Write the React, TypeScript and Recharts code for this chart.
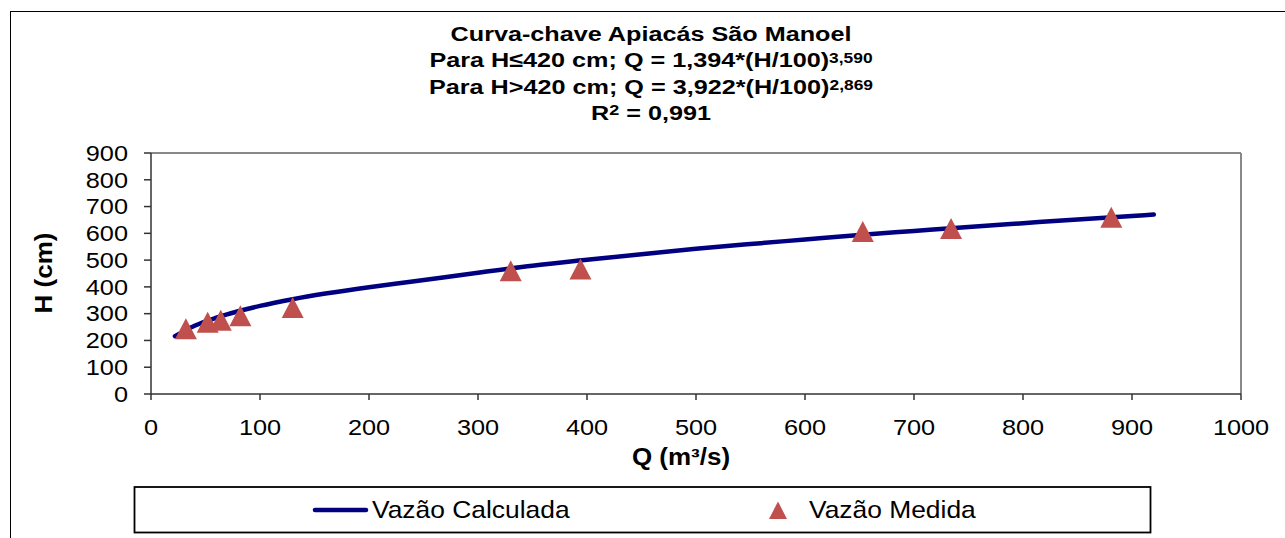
import React from 'react';
import { ComposedChart, Line, Scatter, XAxis, YAxis, ReferenceLine } from 'recharts';

// Calculated rating curve (Q m³/s, H cm)
const curveQ = [22, 40, 60, 80, 100, 130, 160, 200, 240, 300, 350, 400, 450, 500, 550, 600, 650, 700, 750, 800, 850, 900, 920];
const curveH = [216, 255, 285, 309, 329, 354, 375, 399, 420, 453, 479, 501, 522, 542, 560, 577, 594, 609, 624, 638, 652, 665, 670];

// Measured discharges
const measQ = [32, 52, 64, 82, 130, 330, 394, 653, 734, 881];
const measH = [244, 268, 275, 292, 323, 460, 467, 607, 618, 660];

const xTicks = [0, 100, 200, 300, 400, 500, 600, 700, 800, 900, 1000];
const yTicks = [0, 100, 200, 300, 400, 500, 600, 700, 800, 900];

const titleLine1 = 'Curva-chave Apiacás São Manoel';
const titleLine2 = 'Para H≤420 cm; Q = 1,394*(H/100)';
const titleSup2 = '3,590';
const titleLine3 = 'Para H>420 cm; Q = 3,922*(H/100)';
const titleSup3 = '2,869';
const titleLine4a = 'R';
const titleSup4 = '2';
const titleLine4b = ' = 0,991';
const xLabel = 'Q (m³/s)';
const yLabel = 'H (cm)';
const legendLine = 'Vazão Calculada';
const legendScatter = 'Vazão Medida';

const curve = curveQ.map((q, i) => ({ q, h: curveH[i] }));
const measured = measQ.map((q, i) => ({ q, h: measH[i] }));

const FONT = '"Liberation Sans", Arial, sans-serif';
const NAVY = '#000080';
const RED = '#C0504D';

const XTick = (props: any) => {
  const { x, y, payload } = props;
  return (
    <text transform={`translate(${x},${y}) scale(1.15,1)`} textAnchor="middle" fontSize={22} fontFamily={FONT} fill="#000" dy="0.71em">
      {payload.value}
    </text>
  );
};

const YTick = (props: any) => {
  const { x, y, payload } = props;
  return (
    <text transform={`translate(${x},${y}) scale(1.15,1)`} textAnchor="end" fontSize={22} fontFamily={FONT} fill="#000" dy="0.355em">
      {payload.value}
    </text>
  );
};

const Tri = (props: any) => {
  const { cx, cy } = props;
  if (cx == null || cy == null) return null;
  const w = 22;
  const h = 21;
  return (
    <polygon
      points={`${cx},${cy - h / 2} ${cx + w / 2},${cy + h / 2} ${cx - w / 2},${cy + h / 2}`}
      fill={RED}
      stroke="none"
    />
  );
};

export default function App() {
  return (
    <div style={{ position: 'absolute', left: 0, top: 0, width: 1285, height: 538, overflow: 'hidden', background: '#fff' }}>
      <div
        style={{
          position: 'absolute',
          left: 10,
          top: 11,
          width: 1400,
          height: 700,
          borderLeft: '1.5px solid #000',
          borderTop: '1.5px solid #000',
        }}
      />
      <div style={{ position: 'absolute', left: 0, top: 0 }}>
        <ComposedChart width={1285} height={538} margin={{ top: 153, right: 44, bottom: 114, left: 91 }}>
          <XAxis
            type="number"
            dataKey="q"
            domain={[0, 1000]}
            ticks={xTicks}
            allowDataOverflow
            height={30}
            tickSize={6}
            tickMargin={19}
            tick={<XTick />}
            axisLine={{ stroke: '#333', strokeWidth: 1.5 }}
            tickLine={{ stroke: '#333', strokeWidth: 1.5 }}
          />
          <YAxis
            type="number"
            domain={[0, 900]}
            ticks={yTicks}
            allowDataOverflow
            width={60}
            tickSize={7}
            tickMargin={16}
            tick={<YTick />}
            axisLine={{ stroke: '#333', strokeWidth: 1.5 }}
            tickLine={{ stroke: '#333', strokeWidth: 1.5 }}
          />
          <ReferenceLine y={900} stroke="#888" strokeWidth={2} />
          <ReferenceLine x={1000} stroke="#888" strokeWidth={2} />
          <Line
            data={curve}
            dataKey="h"
            type="monotone"
            stroke={NAVY}
            strokeWidth={4.5}
            strokeLinecap="round"
            dot={false}
            activeDot={false}
            isAnimationActive={false}
          />
          <Scatter data={measured} dataKey="h" shape={<Tri />} isAnimationActive={false} />
        </ComposedChart>
      </div>
      <svg width={1285} height={538} style={{ position: 'absolute', left: 0, top: 0, pointerEvents: 'none' }}>
        <g fontFamily={FONT} fontWeight="bold" fill="#000">
          <text transform="translate(651,40.7) scale(1.2,1)" textAnchor="middle" fontSize={21}>
            {titleLine1}
          </text>
          <text transform="translate(651,67.3) scale(1.2,1)" textAnchor="middle" fontSize={21}>
            {titleLine2}
            <tspan fontSize={14.5} dy={-4.5}>{titleSup2}</tspan>
          </text>
          <text transform="translate(651,94) scale(1.2,1)" textAnchor="middle" fontSize={21}>
            {titleLine3}
            <tspan fontSize={14.5} dy={-4.5}>{titleSup3}</tspan>
          </text>
          <text transform="translate(651,120) scale(1.2,1)" textAnchor="middle" fontSize={21}>
            {titleLine4a}
            <tspan fontSize={15} dy={-5}>{titleSup4}</tspan>
            <tspan dy={5}>{titleLine4b}</tspan>
          </text>
          <text transform="translate(681,465) scale(1.13,1)" textAnchor="middle" fontSize={23}>
            {xLabel}
          </text>
          <text transform="translate(52,273) rotate(-90) scale(1.13,1)" textAnchor="middle" fontSize={23}>
            {yLabel}
          </text>
        </g>
        <rect x={134.5} y={487} width={1016} height={45.5} fill="#fff" stroke="#000" strokeWidth={1.8} />
        <line x1={315} y1={510} x2={366} y2={510} stroke={NAVY} strokeWidth={4.5} strokeLinecap="round" />
        <text transform="translate(372,518.3) scale(1.1,1)" fontSize={24} fontFamily={FONT} fill="#000">
          {legendLine}
        </text>
        <polygon points="778,501.5 787,519 769,519" fill={RED} />
        <text transform="translate(809,518.3) scale(1.1,1)" fontSize={24} fontFamily={FONT} fill="#000">
          {legendScatter}
        </text>
      </svg>
    </div>
  );
}
